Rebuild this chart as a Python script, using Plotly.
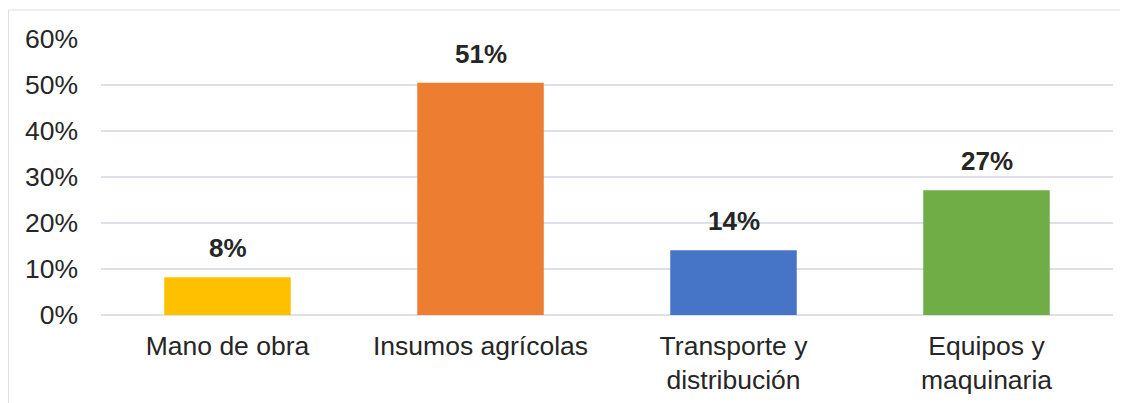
import plotly.graph_objects as go

# Data
categories = ["Mano de obra", "Insumos agrícolas", "Transporte y<br>distribución", "Equipos y<br>maquinaria"]
values = [8.2, 50.5, 14.1, 27.1]
labels = ["8%", "51%", "14%", "27%"]
colors = ["#FFC000", "#ED7D31", "#4674C6", "#70AD47"]
y_ticks = [0, 10, 20, 30, 40, 50, 60]
y_tick_labels = ["0%", "10%", "20%", "30%", "40%", "50%", "60%"]

FONT = "Liberation Sans, Arial, sans-serif"
TEXT = "#262626"

fig = go.Figure()

fig.add_trace(go.Bar(
    x=categories,
    y=values,
    marker=dict(color=colors, line=dict(width=0)),
    width=0.5,
    hoverinfo="skip",
))

# Bold value labels above each bar
for cat, val, lab in zip(categories, values, labels):
    fig.add_annotation(
        x=cat, y=val, text=f"<b>{lab}</b>",
        showarrow=False, yanchor="bottom", yshift=12,
        font=dict(family=FONT, size=26, color=TEXT),
    )

# Light outer frame (top and left edges visible)
fig.add_shape(
    type="rect", xref="paper", yref="paper",
    x0=-0.0915, x1=1.03, y0=-0.35, y1=1.105,
    line=dict(color="#D9DDE3", width=1), layer="below",
)

# page body has an 8px margin, so the figure is sized to fit inside it
fig.update_layout(
    width=1120,
    height=395,
    margin=dict(l=93, r=15, t=31, b=88),
    plot_bgcolor="white",
    paper_bgcolor="white",
    showlegend=False,
    font=dict(family=FONT, color=TEXT),
    xaxis=dict(
        showgrid=False,
        showline=False,
        ticks="",
        tickfont=dict(size=26.5, color=TEXT),
        ticklabelstandoff=12,
        automargin=False,
    ),
    yaxis=dict(
        range=[0, 60],
        tickvals=y_ticks,
        ticktext=y_tick_labels,
        tickfont=dict(size=26.5, color=TEXT),
        gridcolor="#DCE1E8",
        gridwidth=1.5,
        zeroline=True,
        zerolinecolor="#DCE1E8",
        zerolinewidth=1.5,
        showline=False,
        ticks="",
        ticklabelstandoff=22,
        automargin=False,
    ),
)

fig.write_html("out.html")
